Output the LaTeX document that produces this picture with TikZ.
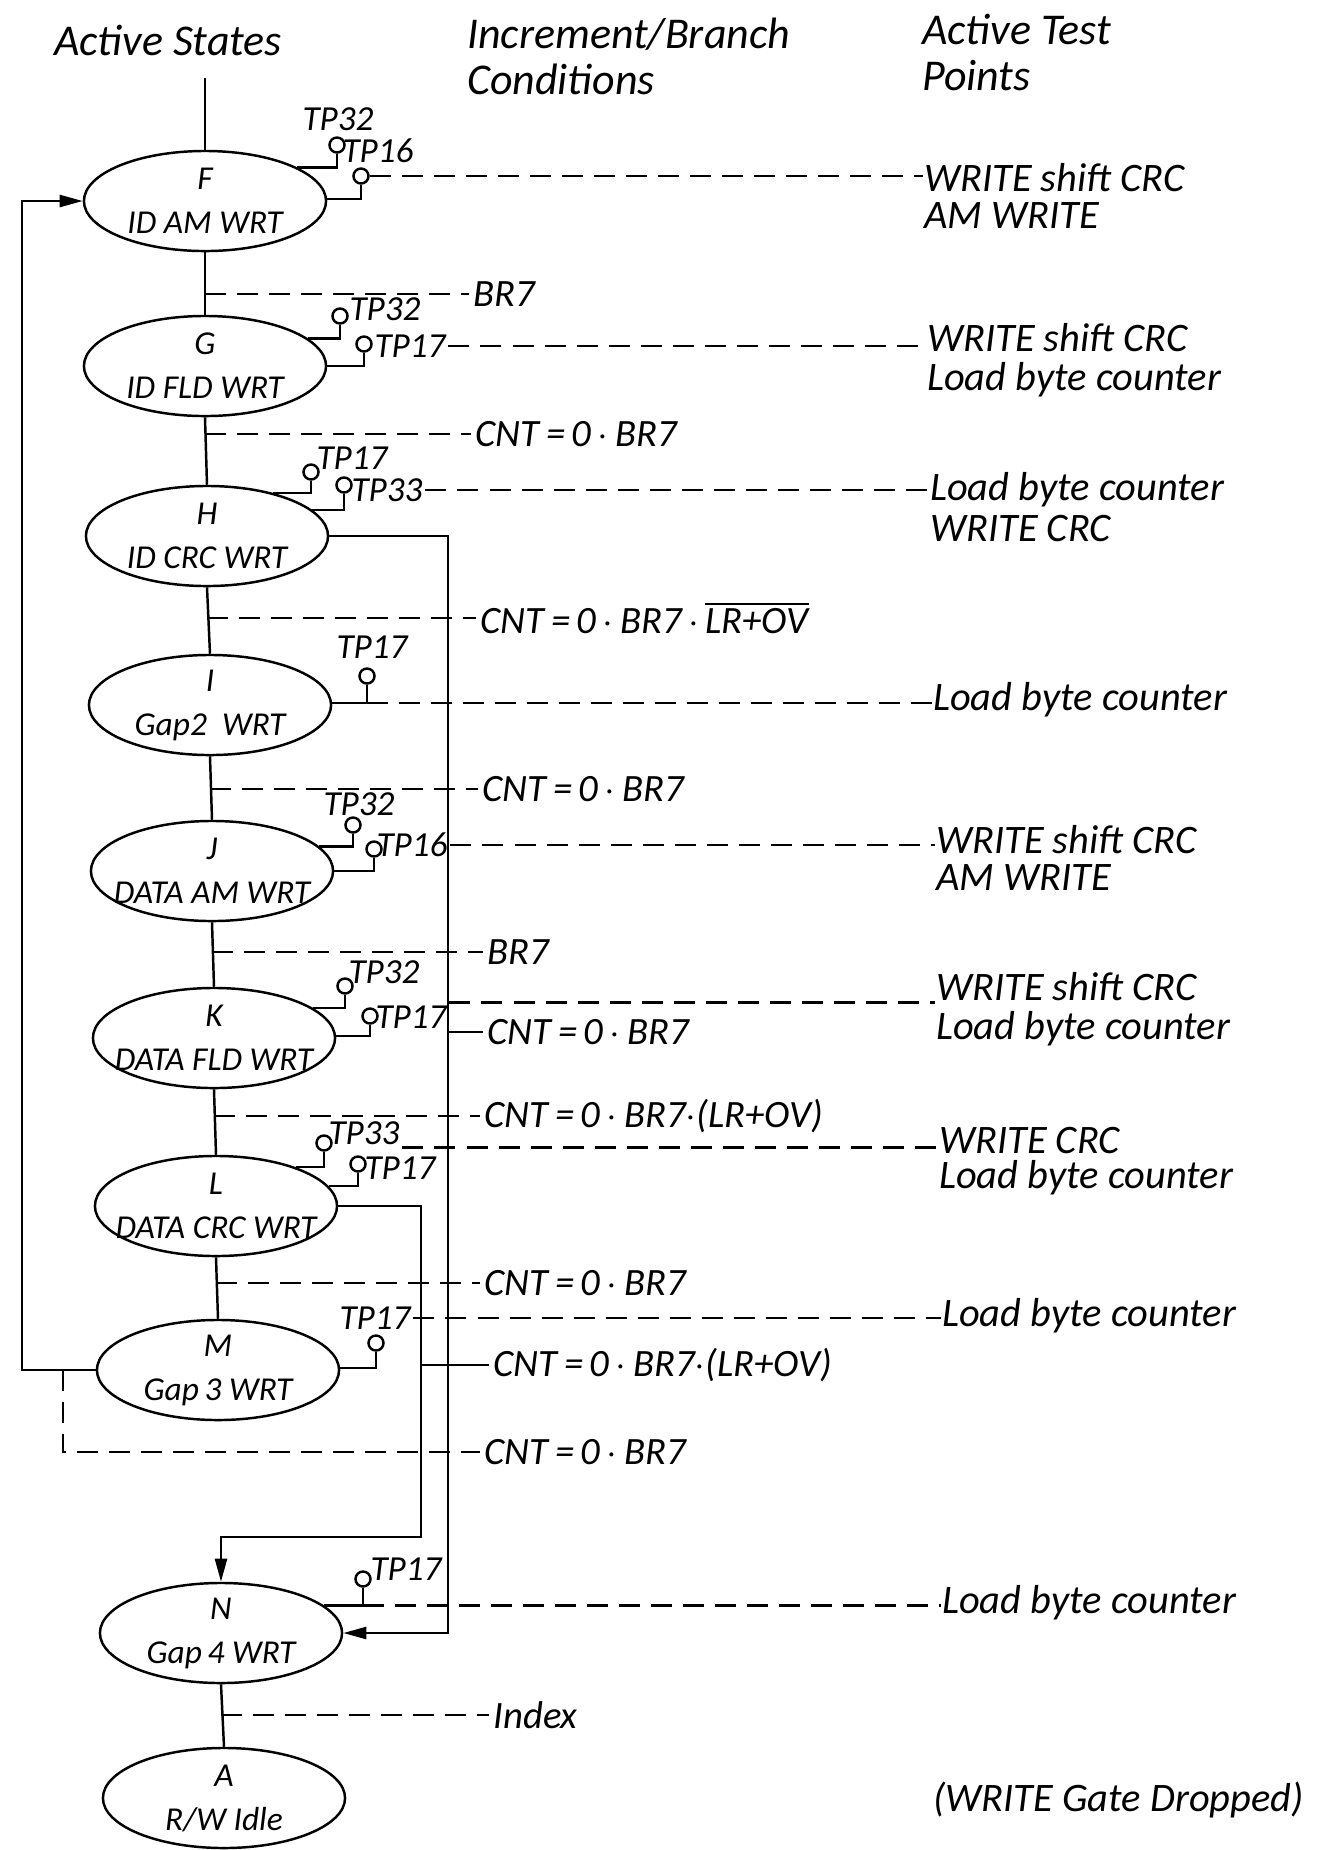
\documentclass[tikz,border=0pt]{standalone}
\usepackage{fontspec}
\setmainfont{Carlito}
\usetikzlibrary{arrows.meta, shapes.geometric}
\newcommand{\bdot}{$\cdot$}

\begin{document}
\begin{tikzpicture}[
    x=0.01cm, y=-0.01cm,
    line width=0.7pt,
    state/.style={ellipse, draw, minimum width=2.42cm,
                  minimum height=1.0cm, inner xsep=-6mm,
                  inner ysep=-3mm, align=center,
                  font=\fontsize{9.5}{12.5}\selectfont\itshape},
    tp/.style={circle, draw, minimum size=0.15cm, inner sep=0pt},
    tplabel/.style={inner sep=0.5pt,
                    font=\fontsize{10}{10}\selectfont\itshape},
    cond/.style={dash pattern=on 2.1mm off 1.1mm},
    condtext/.style={anchor=west, inner sep=1pt,
                     font=\fontsize{11}{11}\selectfont\itshape},
    rtext/.style={anchor=west, inner sep=0pt,
                  font=\fontsize{11.5}{12}\selectfont\itshape},
    head/.style={anchor=north west, align=left, inner sep=0pt,
                 font=\fontsize{12.5}{13}\selectfont\itshape},
    flow/.style={-{Triangle[length=2.3mm, width=1.2mm]}},
]
\useasboundingbox (0,0) rectangle (1322,1850);

% -- Column headings --
\node[head] (hdStates) at (53,24) {Active States};
\node[head] (hdCond) at (466,17) {Increment/Branch\\Conditions};
\node[head] (hdTest) at (921,13) {Active Test\\Points};

% -- States --
\node[state] (F) at (205,201) {F\\ID AM WRT};
\node[state] (G) at (205,366) {G\\ID FLD WRT};
\node[state] (H) at (207,536) {H\\ID CRC WRT};
\node[state] (I) at (210,705) {I\\Gap2\ \ WRT};
\node[state] (J) at (212,871) {J\\DATA AM WRT};
\node[state] (K) at (214,1038) {K\\DATA FLD WRT};
\node[state] (L) at (216,1206) {L\\DATA CRC WRT};
\node[state] (M) at (218,1370) {M\\Gap\,3 WRT};
\node[state] (N) at (221,1633) {N\\Gap\,4 WRT};
\node[state] (A) at (224,1798) {A\\R/W Idle};

% -- Main sequence --
\coordinate (entry) at (205,78);
\draw (entry) -- (F.north);
\foreach \a/\b in {F/G, G/H, H/I, I/J, J/K, K/L, L/M, N/A}
    \draw (\a.south) -- (\b.north);

% -- Return and skip paths --
\coordinate (fbx) at (22,0);
\coordinate (hx) at (448,0);
\coordinate (lturn) at (421,1537);
\coordinate (mbr) at (63,1370);
\draw[flow] (M.west) -- (M.west -| fbx) |- (F.west);
\draw[flow] (H.east) -- (H.east -| hx) |- (N.east);
\draw[flow] (L.east) -| (lturn) -| (N.north);

% -- Branch conditions --
\node[condtext] (cFG) at (469,294) {BR7};
\node[condtext] (cGH) at (471,434) {CNT\,=\,0\,\bdot\,BR7};
\node[condtext] (cHI) at (476,618)
    {CNT\,=\,0\,\bdot\,BR7\,\bdot\,$\overline{\mbox{LR+OV}}$};
\node[condtext] (cIJ) at (478,789) {CNT\,=\,0\,\bdot\,BR7};
\node[condtext] (cJK) at (483,952) {BR7};
\node[condtext] (cHN) at (483,1032) {CNT\,=\,0\,\bdot\,BR7};
\node[condtext] (cKL) at (480,1116) {CNT\,=\,0\,\bdot\,BR7\bdot(LR+OV)};
\node[condtext] (cLM) at (480,1283) {CNT\,=\,0\,\bdot\,BR7};
\node[condtext] (cLN) at (489,1365) {CNT\,=\,0\,\bdot\,BR7\bdot(LR+OV)};
\node[condtext] (cMF) at (480,1452) {CNT\,=\,0\,\bdot\,BR7};
\node[condtext] (cNA) at (489,1715) {Index};

\draw[cond] (F.south |- cFG.west) -- (cFG.west);
\draw[cond] (G.south |- cGH.west) -- (cGH.west);
\draw[cond] (H.south |- cHI.west) -- (cHI.west);
\draw[cond] (I.south |- cIJ.west) -- (cIJ.west);
\draw[cond] (J.south |- cJK.west) -- (cJK.west);
\draw[cond] (K.south |- cKL.west) -- (cKL.west);
\draw[cond] (L.south |- cLM.west) -- (cLM.west);
\draw[cond] (N.south |- cNA.west) -- (cNA.west);
\draw[cond] (mbr) |- (cMF.west);
\draw (hx |- cHN.west) -- (cHN.west);
\draw (lturn |- cLN.west) -- (cLN.west);

% -- Test points --
\node[tp] (tpFa) at (337,145) {};
\node[tplabel] (lbFa) at (338,119) {TP32};
\node[tp] (tpFb) at (361,176) {};
\node[tplabel] (lbFb) at (378,151) {TP16};
\draw (F.20) -| (tpFa.south);
\draw (F.1) -| (tpFb.south);

\node[tp] (tpGa) at (340,316) {};
\node[tplabel] (lbGa) at (385,309) {TP32};
\node[tp] (tpGb) at (364,344) {};
\node[tplabel] (lbGb) at (410,346) {TP17};
\draw (G.15) -| (tpGa.south);
\draw (G.east) -| (tpGb.south);

\node[tp] (tpHa) at (311,472) {};
\node[tplabel] (lbHa) at (352,458) {TP17};
\node[tp] (tpHb) at (344,485) {};
\node[tplabel] (lbHb) at (387,490) {TP33};
\draw (H.33) -| (tpHa.south);
\draw (H.14) -| (tpHb.south);

\node[tp] (tpI) at (367,676) {};
\node[tplabel] (lbI) at (372,647) {TP17};
\draw (I.1) -| (tpI.south);

\node[tp] (tpJa) at (353,825) {};
\node[tplabel] (lbJa) at (359,804) {TP32};
\node[tp] (tpJb) at (374,849) {};
\node[tplabel] (lbJb) at (412,845) {TP16};
\draw (J.13) -| (tpJa.south);
\draw (J.east) -| (tpJb.south);

\node[tp] (tpKa) at (345,986) {};
\node[tplabel] (lbKa) at (384,972) {TP32};
\node[tp] (tpKb) at (370,1016) {};
\node[tplabel] (lbKb) at (411,1017) {TP17};
\draw (K.17) -| (tpKa.south);
\draw (K.1) -| (tpKb.south);

\node[tp] (tpLa) at (324,1143) {};
\node[tplabel] (lbLa) at (364,1133) {TP33};
\node[tp] (tpLb) at (358,1164) {};
\node[tplabel] (lbLb) at (400,1168) {TP17};
\draw (L.26) -| (tpLa.south);
\draw (L.10) -| (tpLb.south);

\node[tp] (tpM) at (376,1343) {};
\node[tplabel] (lbM) at (375,1318) {TP17};
\draw (M.1) -| (tpM.south);

\node[tp] (tpN) at (363,1579) {};
\node[tplabel] (lbN) at (406,1569) {TP17};
\draw (N.15) -| (tpN.south);

% -- Active test point outputs --
\node[rtext] (rtFa) at (923,178) {WRITE shift CRC};
\node[rtext] (rtFb) at (923,216) {AM WRITE};
\node[rtext] (rtGa) at (926,338) {WRITE shift CRC};
\node[rtext] (rtGb) at (926,380) {Load byte counter};
\node[rtext] (rtHa) at (929,490) {Load byte counter};
\node[rtext] (rtHb) at (929,528) {WRITE CRC};
\node[rtext] (rtIa) at (932,700) {Load byte counter};
\node[rtext] (rtJa) at (935,840) {WRITE shift CRC};
\node[rtext] (rtJb) at (935,878) {AM WRITE};
\node[rtext] (rtKa) at (935,987) {WRITE shift CRC};
\node[rtext] (rtKb) at (935,1029) {Load byte counter};
\node[rtext] (rtLa) at (938,1140) {WRITE CRC};
\node[rtext] (rtLb) at (938,1178) {Load byte counter};
\node[rtext] (rtMa) at (941,1316) {Load byte counter};
\node[rtext] (rtNa) at (941,1603) {Load byte counter};
\node[rtext, anchor=east] (rtAa) at (1305,1800) {(WRITE Gate Dropped)};

\draw[cond] (tpFb.east) -- (rtFa.west |- tpFb.east);
\draw[cond] (lbGb.east) -- (rtGa.west |- lbGb.east);
\draw[cond] (lbHb.east) -- (rtHa.west |- lbHb.east);
\draw[cond] (tpI.south |- I.1) -- (rtIa.west |- I.1);
\draw[cond] (lbJb.east) -- (rtJa.west |- lbJb.east);
\draw[cond] (lbKb.north east) -- (rtKa.west |- lbKb.north east);
\draw[cond] (lbLa.south east) -- (rtLa.west |- lbLa.south east);
\draw[cond] (lbM.east) -- (rtMa.west |- lbM.east);
\draw[cond] (tpN.south |- N.15) -- (rtNa.west |- N.15);

\end{tikzpicture}
\end{document}
